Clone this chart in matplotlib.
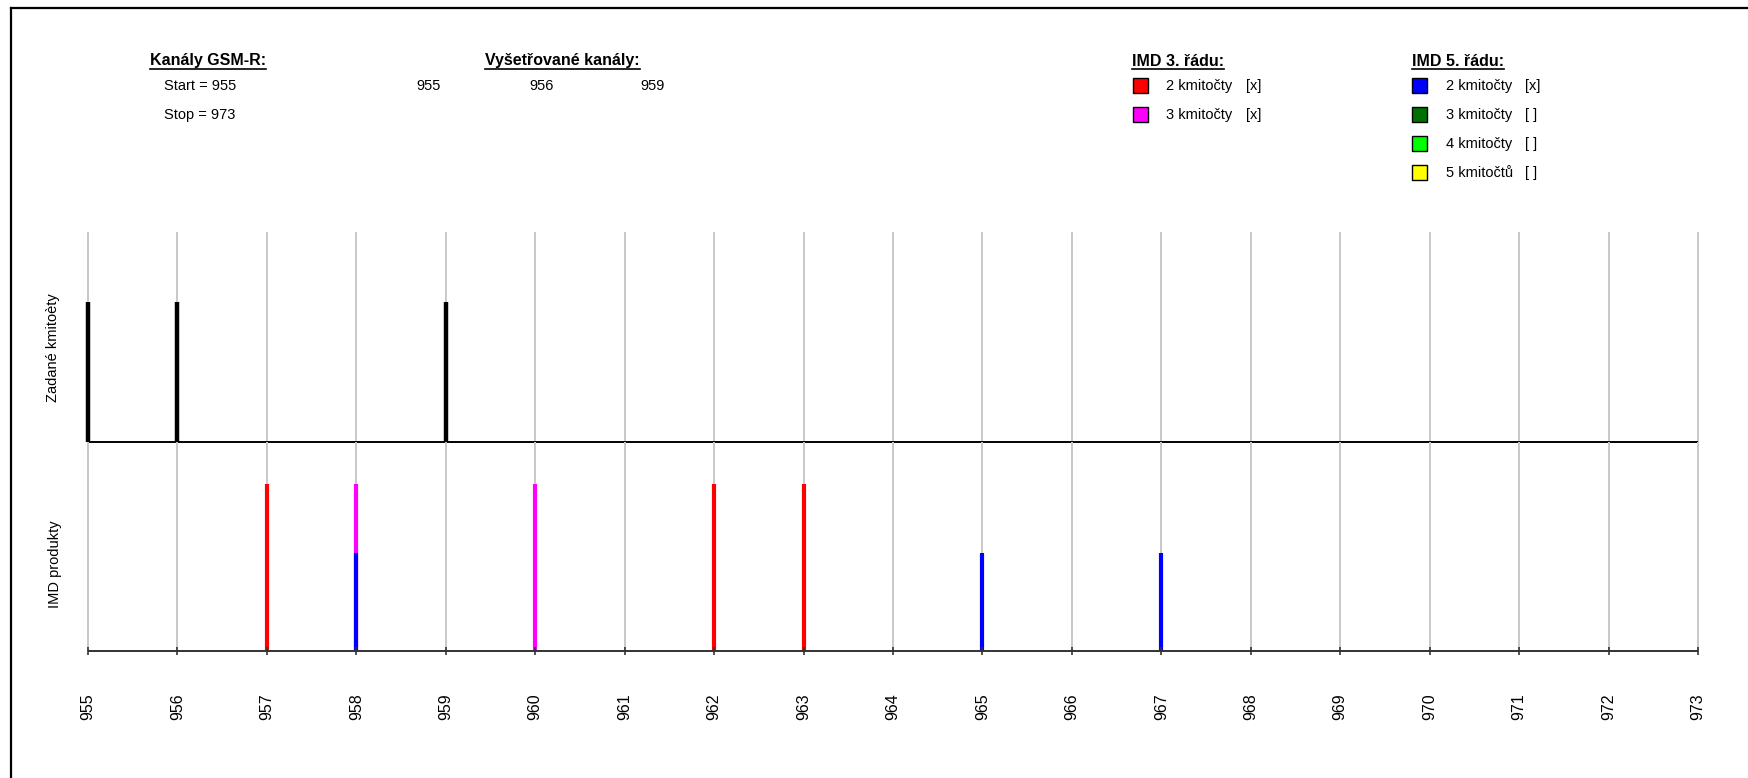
import matplotlib
matplotlib.use("Agg")
import matplotlib.pyplot as plt
from matplotlib import font_manager
from matplotlib.lines import Line2D
from matplotlib.patches import Rectangle

# ---- data -------------------------------------------------------------
channel_start = 955
channel_stop = 973
channels = list(range(channel_start, channel_stop + 1))

given_channels = [955, 956, 959]          # Zadané kmitočty
imd3_two = [957, 962, 963]                # IMD 3. řádu, 2 kmitočty
imd3_three = [958, 960]                   # IMD 3. řádu, 3 kmitočty
imd5_two = [958, 965, 967]                # IMD 5. řádu, 2 kmitočty

given_level = 0.667
imd3_level = 0.80
imd5_level = 0.47

imd3_legend = [("2 kmitočty", "[x]", "#ff0000"),
               ("3 kmitočty", "[x]", "#ff00ff")]
imd5_legend = [("2 kmitočty", "[x]", "#0000ff"),
               ("3 kmitočty", "[ ]", "#007000"),
               ("4 kmitočty", "[ ]", "#00ff00"),
               ("5 kmitočtů", "[ ]", "#ffff00")]

# ---- fonts ------------------------------------------------------------
available = {f.name for f in font_manager.fontManager.ttflist}
families = [f for f in ["Liberation Sans Narrow", "Liberation Sans", "DejaVu Sans"]
            if f in available] or ["DejaVu Sans"]
plt.rcParams["font.family"] = families

FS = 10.5        # regular text
FS_HEAD = 11.5   # bold headers
FS_TICK = 11.5   # channel numbers

W, H = 1749, 778
fig = plt.figure(figsize=(W / 100, H / 100), dpi=100)


def fx(x):
    return x / W


def fy(y):
    return 1 - y / H


# plot area in pixels
x0, x1 = 88, 1698
y_top, y_mid, y_bot = 232, 442, 651

ax_top = fig.add_axes([fx(x0), fy(y_mid), fx(x1) - fx(x0), fy(y_top) - fy(y_mid)])
ax_bot = fig.add_axes([fx(x0), fy(y_bot), fx(x1) - fx(x0), fy(y_mid) - fy(y_bot)])

for ax in (ax_top, ax_bot):
    ax.set_xlim(channel_start, channel_stop)
    ax.set_ylim(0, 1)
    ax.axis("off")
    ax.vlines(channels, 0, 1, colors="#c8c8c8", linewidth=1.4, zorder=1,
              clip_on=False)

# upper panel: given channels
ax_top.vlines(given_channels, 0, given_level, colors="black", linewidth=3.2,
              zorder=3, clip_on=False)
ax_top.hlines(0, channel_start, channel_stop, colors="black", linewidth=1.4,
              zorder=4, clip_on=False)

# lower panel: IMD products
ax_bot.vlines(imd3_two, 0, imd3_level, colors="#ff0000", linewidth=3.0,
              zorder=3, clip_on=False)
ax_bot.vlines(imd3_three, 0, imd3_level, colors="#ff00ff", linewidth=3.0,
              zorder=3, clip_on=False)
ax_bot.vlines(imd5_two, 0, imd5_level, colors="#0000ff", linewidth=3.0,
              zorder=4, clip_on=False)
ax_bot.hlines(0, channel_start, channel_stop, colors="#333333", linewidth=1.4,
              zorder=5, clip_on=False)
ax_bot.vlines(channels, -0.02, 0.02, colors="#333333", linewidth=1.2, zorder=5,
              clip_on=False)

# tick labels below the lower axis
for ch in channels:
    ax_bot.annotate(str(ch), xy=(ch, 0), xycoords="data",
                    xytext=(0, -(707 - y_bot) * 0.72), textcoords="offset points",
                    rotation=90, ha="center", va="center", fontsize=FS_TICK,
                    color="black")

# panel labels
fig.text(fx(53), fy(348), "Zadané kmitoèty", rotation=90, ha="center",
         va="center", fontsize=FS)
fig.text(fx(55), fy(564), "IMD produkty", rotation=90, ha="center",
         va="center", fontsize=FS)

# header block
headers = []
headers.append(fig.text(fx(150), fy(61), "Kanály GSM-R:", fontsize=FS_HEAD,
                        fontweight="bold", ha="left", va="center"))
fig.text(fx(164), fy(86), f"Start = {channel_start}", fontsize=FS, ha="left",
         va="center")
fig.text(fx(164), fy(115), f"Stop = {channel_stop}", fontsize=FS, ha="left",
         va="center")

headers.append(fig.text(fx(485), fy(61), "Vyšetřované kanály:", fontsize=FS_HEAD,
                        fontweight="bold", ha="left", va="center"))
for ch, xp in zip(given_channels, [416, 529, 640]):
    fig.text(fx(xp), fy(86), str(ch), fontsize=FS, ha="left", va="center")


def legend_block(x_head, x_box, x_text, x_flag, title, rows):
    headers.append(fig.text(fx(x_head), fy(61), title, fontsize=FS_HEAD,
                            fontweight="bold", ha="left", va="center"))
    for i, (label, flag, color) in enumerate(rows):
        yc = 86 + i * 29
        fig.patches.append(Rectangle((fx(x_box), fy(yc + 7)), 15 / W, 15 / H,
                                     transform=fig.transFigure,
                                     facecolor=color, edgecolor="black",
                                     linewidth=1.0))
        fig.text(fx(x_text), fy(yc), label, fontsize=FS, ha="left",
                 va="center")
        fig.text(fx(x_flag), fy(yc), flag, fontsize=FS, ha="left",
                 va="center")


legend_block(1132, 1133, 1166, 1246, "IMD 3. řádu:", imd3_legend)
legend_block(1412, 1412, 1446, 1525, "IMD 5. řádu:", imd5_legend)

# underline the bold headers
fig.canvas.draw()
renderer = fig.canvas.get_renderer()
for t in headers:
    bb = t.get_window_extent(renderer)
    yline = bb.y0
    fig.lines.append(Line2D([bb.x0 / W, bb.x1 / W], [yline / H, yline / H],
                            transform=fig.transFigure, color="black",
                            linewidth=1.2))

# outer frame (top and left edges)
fig.lines.append(Line2D([fx(11), 1], [fy(8), fy(8)], transform=fig.transFigure,
                        color="black", linewidth=1.6))
fig.lines.append(Line2D([fx(11), fx(11)], [fy(8), 0], transform=fig.transFigure,
                        color="black", linewidth=1.6))

fig.savefig("out.png", dpi=100, facecolor="white")
